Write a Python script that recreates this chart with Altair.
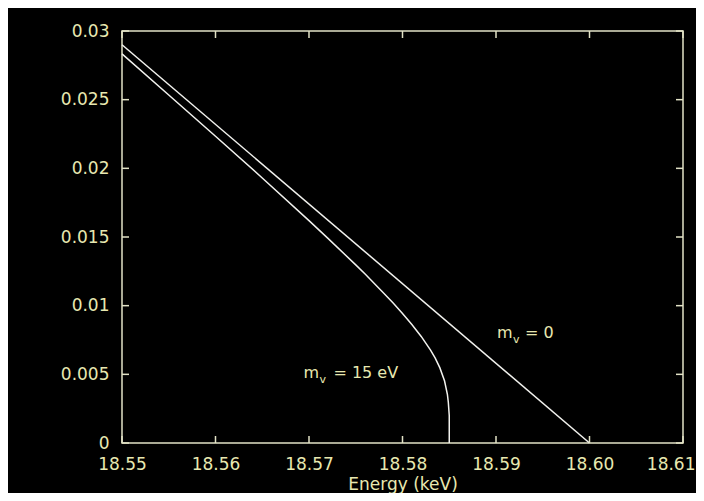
import altair as alt
import pandas as pd

# m_nu = 0 line
e_m0 = [18.55, 18.60]
k_m0 = [0.0290, 0.0]

# m_nu = 15 eV curve
e_m15 = [18.550, 18.555, 18.560, 18.565, 18.570, 18.572, 18.575, 18.576, 18.578,
         18.579, 18.580, 18.581, 18.582, 18.583, 18.5835, 18.584, 18.5845, 18.5848,
         18.5849, 18.5850, 18.5850]
k_m15 = [0.02833, 0.02534, 0.02234, 0.01930, 0.01619, 0.01492, 0.01297, 0.01230,
         0.01091, 0.01019, 0.00943, 0.00863, 0.00776, 0.00676, 0.00618, 0.00547,
         0.00451, 0.00355, 0.00297, 0.0020, 0.0]

x_ticks = [18.55, 18.56, 18.57, 18.58, 18.59, 18.60, 18.61]
y_ticks = [0, 0.005, 0.01, 0.015, 0.02, 0.025, 0.03]

# annotation anchors
ann_e = [18.5901, 18.5694]
ann_k = [0.00765, 0.00473]
ann_rest = ["= 0", "= 15 eV"]

W, H = 561, 412
FG = "#e8e8b0"
FRAME = "#e2e2c6"
LINE = "#f2f2ee"

xs = alt.Scale(domain=[18.55, 18.61], nice=False, zero=False)
ys = alt.Scale(domain=[0, 0.03], nice=False)

df_lines = pd.concat([
    pd.DataFrame({"E": e_m0, "K": k_m0, "s": "m0", "o": range(len(e_m0))}),
    pd.DataFrame({"E": e_m15, "K": k_m15, "s": "m15", "o": range(len(e_m15))}),
])

lines = alt.Chart(df_lines).mark_line(color=LINE, strokeWidth=1.5).encode(
    x=alt.X("E:Q", scale=xs,
            axis=alt.Axis(values=x_ticks, format=".2f", title="Energy (keV)",
                          grid=False, ticks=False, tickSize=0, domain=False,
                          labelPadding=13, labelFont="DejaVu Sans", labelFontSize=17,
                          labelColor=FG, titleFont="DejaVu Sans", titleFontSize=17,
                          titleColor=FG, titleFontWeight="normal",
                          titleBaseline="alphabetic", titleY=46, labelFlush=False,
                          labelAlign={"condition": {"test": "datum.value >= 18.605",
                                                    "value": "right"},
                                      "value": "center"},
                          labelOffset={"condition": {"test": "datum.value >= 18.605",
                                                     "value": 12},
                                       "value": 0})),
    y=alt.Y("K:Q", scale=ys,
            axis=alt.Axis(values=y_ticks, format="~g", title=None, grid=False,
                          ticks=False, tickSize=0, domain=False, labelPadding=13,
                          labelFont="DejaVu Sans", labelFontSize=17, labelColor=FG,
                          labelFlush=False)),
    detail="s:N",
    order="o:Q",
)

xt = pd.DataFrame({"t": x_ticks})
yt = pd.DataFrame({"t": y_ticks})
TL = 7
bot = alt.Chart(xt).mark_rule(color=FRAME, strokeWidth=1.5).encode(
    x=alt.X("t:Q", scale=xs), y=alt.value(H), y2=alt.value(H - TL))
top = alt.Chart(xt).mark_rule(color=FRAME, strokeWidth=1.5).encode(
    x=alt.X("t:Q", scale=xs), y=alt.value(0), y2=alt.value(TL))
left = alt.Chart(yt).mark_rule(color=FRAME, strokeWidth=1.5).encode(
    y=alt.Y("t:Q", scale=ys), x=alt.value(0), x2=alt.value(TL))
right = alt.Chart(yt).mark_rule(color=FRAME, strokeWidth=1.5).encode(
    y=alt.Y("t:Q", scale=ys), x=alt.value(W), x2=alt.value(W - TL))

ann = pd.DataFrame({"E": ann_e, "K": ann_k, "rest": ann_rest})
base_ann = alt.Chart(ann)
m_txt = base_ann.mark_text(align="left", baseline="alphabetic", font="DejaVu Sans",
                           fontSize=16, color=FG).encode(
    x=alt.X("E:Q", scale=xs), y=alt.Y("K:Q", scale=ys), text=alt.value("m"))
v_txt = base_ann.mark_text(align="left", baseline="alphabetic", font="DejaVu Sans",
                           fontSize=11, color=FG, dx=16, dy=5).encode(
    x=alt.X("E:Q", scale=xs), y=alt.Y("K:Q", scale=ys), text=alt.value("v"))
r0 = alt.Chart(ann.iloc[[0]]).mark_text(align="left", baseline="alphabetic",
                                        font="DejaVu Sans", fontSize=16, color=FG,
                                        dx=28).encode(
    x=alt.X("E:Q", scale=xs), y=alt.Y("K:Q", scale=ys), text="rest:N")
r1 = alt.Chart(ann.iloc[[1]]).mark_text(align="left", baseline="alphabetic",
                                        font="DejaVu Sans", fontSize=16, color=FG,
                                        dx=30).encode(
    x=alt.X("E:Q", scale=xs), y=alt.Y("K:Q", scale=ys), text="rest:N")

chart = alt.layer(lines, bot, top, left, right, m_txt, v_txt, r0, r1).properties(
    width=W, height=H,
    background="black",
    padding={"left": 114, "top": 23, "right": 13, "bottom": 50},
    autosize=alt.AutoSizeParams(type="none"),
).configure_view(stroke=FRAME, strokeWidth=1.5)

chart.save("out.html", embed_options={"renderer": "svg", "actions": False})
